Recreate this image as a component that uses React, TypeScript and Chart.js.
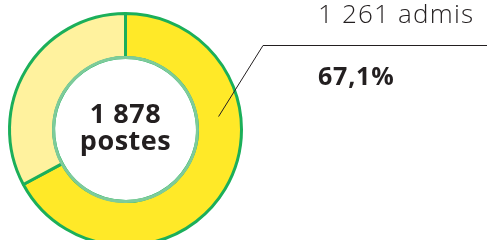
import React, { useEffect, useRef } from "react";
import { Chart, registerables } from "chart.js";

Chart.register(...registerables);

const categories = ["admis", "non pourvus"];
const values = [1261, 617];
const totalLabel = ["1 878", "postes"];
const calloutLabel = "1 261 admis";
const calloutPercent = "67,1%";

const colors = ["#FFE928", "#FFF29E"];
const GREEN = "#1BAF5A";
const LIGHT_GREEN = "#7ECB9B";
const FONT = "'Open Sans', Lato, sans-serif";

export default function App() {
  const ref = useRef<HTMLCanvasElement | null>(null);
  useEffect(() => {
    document.body.style.margin = "0";
    const canvas = ref.current!;
    const overlay = {
      id: "overlay",
      afterDatasetsDraw(chart: any) {
        const ctx = chart.ctx as CanvasRenderingContext2D;
        const arc = chart.getDatasetMeta(0).data[0] as any;
        const { x, y, innerRadius } = arc;
        ctx.save();
        ctx.beginPath();
        ctx.arc(x, y, innerRadius, 0, Math.PI * 2);
        ctx.strokeStyle = LIGHT_GREEN;
        ctx.lineWidth = 3;
        ctx.stroke();
        ctx.fillStyle = "#231F20";
        ctx.textAlign = "center";
        ctx.textBaseline = "alphabetic";
        ctx.font = `bold 27px ${FONT}`;
        (ctx as any).letterSpacing = "0.5px";
        ctx.fillText(totalLabel[0], x, y - 7);
        ctx.fillText(totalLabel[1], x, y + 20);
        ctx.restore();
      },
    };
    const callout = {
      id: "callout",
      afterDraw(chart: any) {
        const ctx = chart.ctx as CanvasRenderingContext2D;
        const arc = chart.getDatasetMeta(0).data[0] as any;
        const { x, y, innerRadius, outerRadius } = arc;
        const ang = -Math.PI / 2 + 2 * Math.PI * 0.228;
        const r = (innerRadius + outerRadius) / 2;
        const ax = x + r * Math.cos(ang);
        const ay = y + r * Math.sin(ang);
        ctx.save();
        ctx.strokeStyle = "#231F20";
        ctx.lineWidth = 1;
        ctx.beginPath();
        ctx.moveTo(ax, ay);
        ctx.lineTo(263, 45.5);
        ctx.lineTo(487, 45.5);
        ctx.stroke();
        ctx.fillStyle = "#231F20";
        ctx.textAlign = "left";
        ctx.textBaseline = "alphabetic";
        ctx.font = `300 26px ${FONT}`;
        (ctx as any).letterSpacing = "1.2px";
        ctx.fillText(calloutLabel, 318, 23);
        ctx.font = `bold 25px ${FONT}`;
        (ctx as any).letterSpacing = "0.8px";
        ctx.fillText(calloutPercent, 318, 85);
        ctx.restore();
      },
    };
    const chart = new Chart(canvas, {
      type: "doughnut",
      data: {
        labels: categories,
        datasets: [
          {
            data: values,
            backgroundColor: colors,
            borderColor: GREEN,
            borderWidth: 3,
          },
        ],
      },
      options: {
        responsive: false,
        animation: false,
        cutout: "62%",
        layout: { padding: { left: 8, right: 487 - 243, top: 12, bottom: 260 - 247 } },
        plugins: { legend: { display: false }, tooltip: { enabled: false } },
      },
      plugins: [overlay, callout],
    });
    return () => chart.destroy();
  }, []);
  return (
    <div style={{ width: 487, height: 240, overflow: "hidden" }}>
      <canvas ref={ref} width={487} height={260} style={{ display: "block" }} />
    </div>
  );
}
